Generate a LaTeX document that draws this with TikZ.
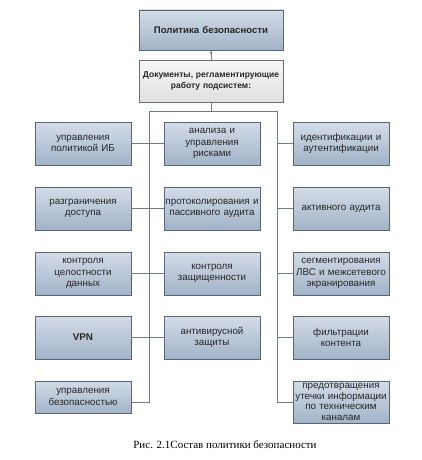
\documentclass[tikz,border=0pt]{standalone}
\usepackage{fontspec}
\setmainfont{Liberation Sans}
\newfontfamily\capfont{Liberation Serif}
\usetikzlibrary{shadows,arrows.meta}
\definecolor{boxtop}{HTML}{D3DCE8}
\definecolor{boxbot}{HTML}{A2B3C8}
\definecolor{boxline}{HTML}{56667C}
\definecolor{doctop}{HTML}{F7F7F7}
\definecolor{docbot}{HTML}{E0E0E0}
\definecolor{docline}{HTML}{6E6E6E}
\definecolor{connc}{HTML}{6F7D8E}
\begin{document}
\begin{tikzpicture}[x=1pt,y=-1pt,
  sbox/.style={draw=boxline, line width=0.7pt, top color=boxtop, bottom color=boxbot,
    drop shadow={opacity=0.25,shadow xshift=1.2pt,shadow yshift=-1.2pt},
    minimum width=96pt, minimum height=43pt, text width=95pt, align=center,
    font=\fontsize{9.8}{11.5}\selectfont, text=black!85, inner sep=0.5pt},
  topbox/.style={sbox, minimum width=144pt, minimum height=40pt, text width=140pt,
    font=\bfseries\fontsize{9.6}{11}\selectfont},
  docbox/.style={sbox, draw=docline, top color=doctop, bottom color=docbot,
    minimum width=144pt, minimum height=42pt, text width=142pt,
    font=\bfseries\fontsize{8.5}{11.5}\selectfont},
  conn/.style={draw=connc, line width=0.7pt}
]
\fill[white] (0,0) rectangle (422,460);
\useasboundingbox (0,0) rectangle (422,460);

\node[topbox] (pol) at (211,30) {Политика безопасности};
\node[docbox] (doc) at (211,81) {Документы, регламентирующие\\работу подсистем:};

% left column
\node[sbox] (l1) at (83,143.5) {управления\\политикой ИБ};
\node[sbox] (l2) at (83,208.5) {разграничения\\доступа};
\node[sbox] (l3) at (83,273.5) {контроля\\целостности\\данных};
\node[sbox, font=\bfseries\fontsize{9.8}{11.5}\selectfont] (l4) at (83,337.5) {VPN};
\node[sbox, minimum height=32pt] (l5) at (83,397) {управления\\безопасностью};

% middle column
\node[sbox] (m1) at (212,143.5) {анализа и\\управления\\рисками};
\node[sbox] (m2) at (212,208.5) {протоколирования и\\пассивного аудита};
\node[sbox] (m3) at (212,273.5) {контроля\\защищенности};
\node[sbox] (m4) at (212,337.5) {антивирусной\\защиты};

% right column
\node[sbox] (r1) at (341,143.5) {идентификации и\\аутентификации};
\node[sbox] (r2) at (341,208.5) {активного аудита};
\node[sbox] (r3) at (341,273.5) {сегментирования\\ЛВС и межсетевого\\экранирования};
\node[sbox] (r4) at (341,337.5) {фильтрации\\контента};
\node[sbox, minimum height=42pt, font=\fontsize{9.8}{10.5}\selectfont] (r5) at (341,402) {предотвращения\\утечки информации\\по техническим\\каналам};

% connectors
\coordinate (bm) at (211,111);
\coordinate (bl) at (149,111);
\coordinate (br) at (277,111);
\coordinate (lend) at (149,402);
\coordinate (rend) at (277,402);

\draw[conn, -{Latex[length=3pt,width=3pt]}] (doc.north) -- (pol.south);
\draw[conn] (doc.south) -- (bm);
\draw[conn] (bl) -- (br);
\draw[conn] (bl) -- (lend) -- (lend -| l5.east);
\draw[conn] (br) -- (rend) -- (r5.west);

\foreach \i in {1,2,3,4} {
  \draw[conn] (l\i.east) -- (m\i.west);
  \draw[conn] (r\i.west) -- (r\i.west -| br);
}

\node[font=\capfont\fontsize{11}{13}\selectfont] (cap) at (225,445) {Рис. 2.1Состав политики безопасности};
\end{tikzpicture}
\end{document}
